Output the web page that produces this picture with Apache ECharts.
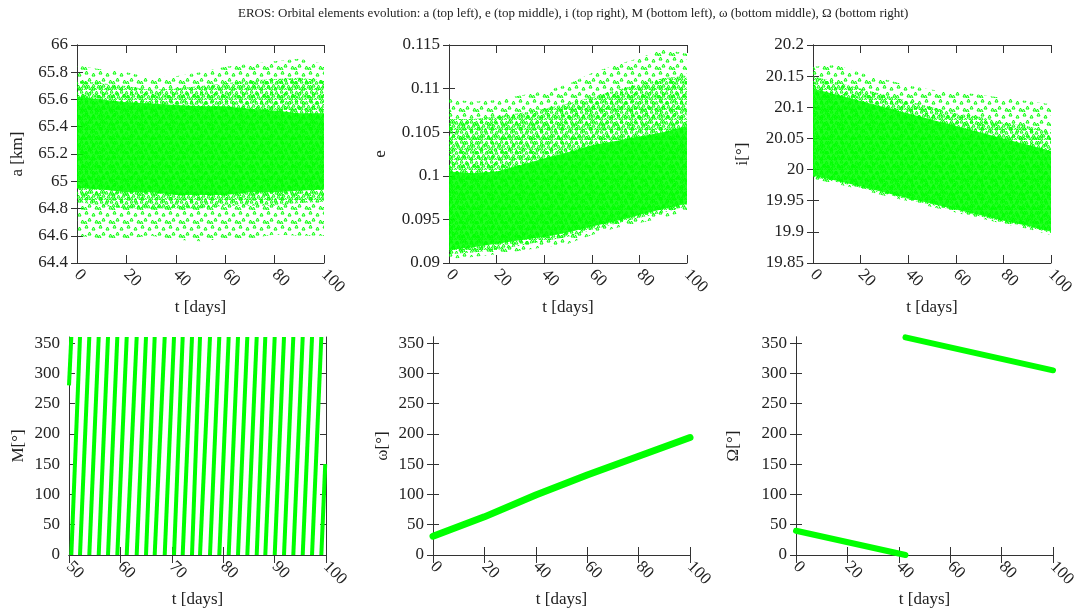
<!DOCTYPE html>
<html>
<head>
<meta charset="utf-8">
<script src="https://cdn.jsdelivr.net/npm/echarts@6/dist/echarts.min.js"></script>
<style>
  html, body { margin: 0; padding: 0; background: #fff; }
  #chart { width: 1081px; height: 611px; }
</style>
</head>
<body>
<div id="chart"></div>
<script>
// sample times of the envelope readings (days)
const tEnv = [0, 10, 20, 30, 40, 50, 60, 70, 80, 90, 100]

// a [km]: outer fringe, moderately dense band, dense core
const aHi     = [65.85, 65.82, 65.80, 65.76, 65.77, 65.80, 65.84, 65.86, 65.88, 65.90, 65.86]
const aLo     = [64.60, 64.58, 64.58, 64.60, 64.57, 64.56, 64.58, 64.58, 64.61, 64.60, 64.60]
const aMidHi  = [65.74, 65.72, 65.70, 65.67, 65.68, 65.70, 65.72, 65.74, 65.75, 65.76, 65.74]
const aMidLo  = [64.85, 64.82, 64.80, 64.80, 64.80, 64.80, 64.82, 64.82, 64.82, 64.84, 64.85]
const aCoreHi = [65.62, 65.60, 65.58, 65.57, 65.56, 65.55, 65.55, 65.53, 65.52, 65.50, 65.50]
const aCoreLo = [64.95, 64.94, 64.92, 64.92, 64.90, 64.90, 64.90, 64.92, 64.92, 64.93, 64.94]

// e
const eHi     = [0.1088, 0.1085, 0.1087, 0.1092, 0.1097, 0.1105, 0.1118, 0.1127, 0.1135, 0.1145, 0.1140]
const eLo     = [0.0905, 0.0907, 0.0910, 0.0914, 0.0918, 0.0922, 0.0932, 0.0940, 0.0946, 0.0952, 0.0960]
const eMidHi  = [0.1065, 0.1065, 0.1068, 0.1072, 0.1077, 0.1083, 0.1090, 0.1098, 0.1105, 0.1112, 0.1115]
const eMidLo  = [0.0910, 0.0912, 0.0915, 0.0920, 0.0925, 0.0930, 0.0938, 0.0945, 0.0952, 0.0958, 0.0965]
const eCoreHi = [0.1005, 0.1003, 0.1005, 0.1012, 0.1020, 0.1027, 0.1035, 0.1040, 0.1045, 0.1050, 0.1057]
const eCoreLo = [0.0915, 0.0918, 0.0922, 0.0926, 0.0930, 0.0935, 0.0942, 0.0948, 0.0955, 0.0962, 0.0968]

// i [deg]
const iHi     = [20.165, 20.168, 20.155, 20.145, 20.135, 20.128, 20.125, 20.120, 20.115, 20.110, 20.105]
const iLo     = [19.985, 19.977, 19.968, 19.958, 19.949, 19.940, 19.931, 19.922, 19.913, 19.905, 19.895]
const iMidHi  = [20.150, 20.140, 20.130, 20.120, 20.110, 20.100, 20.090, 20.085, 20.075, 20.070, 20.060]
const iMidLo  = [19.988, 19.980, 19.971, 19.961, 19.952, 19.943, 19.934, 19.925, 19.916, 19.908, 19.898]
const iCoreHi = [20.130, 20.120, 20.110, 20.100, 20.090, 20.080, 20.070, 20.060, 20.050, 20.040, 20.030]
const iCoreLo = [19.990, 19.982, 19.973, 19.963, 19.954, 19.945, 19.936, 19.927, 19.918, 19.910, 19.900]

// M [deg]: times where M wraps 360 -> 0
const mWrap = [50.45, 52.14, 53.95, 55.78, 57.59, 59.40, 61.23, 63.17, 64.98, 66.67,
               68.62, 70.43, 72.12, 73.93, 75.49, 77.43, 79.24, 81.07, 82.88, 84.69,
               86.52, 88.19, 90.02, 91.83, 93.64, 95.47, 97.28, 99.09]
const mStart = [50.0, 280]
const mEnd = [99.85, 150]

// omega [deg]
const wT = [0, 20, 40, 60, 80, 100]
const wV = [31, 63, 99, 132, 163, 194]

// Omega [deg], two pieces split at the 0/360 wrap
const OmT1 = [0, 42.6]
const OmV1 = [40, 0]
const OmT2 = [42.6, 100]
const OmV2 = [359.5, 305]

const angleTicks = [0, 50, 100, 150, 200, 250, 300, 350]

const GREEN = '#00ff00'
const FONT = '"Liberation Serif", "DejaVu Serif", serif'
const INK = '#222'

const grids = [
  { left: 77, top: 45, width: 247, height: 218 },
  { left: 449, top: 45, width: 238, height: 218 },
  { left: 813, top: 45, width: 238, height: 218 },
  { left: 69, top: 337, width: 257, height: 218 },
  { left: 433, top: 337, width: 257, height: 218 },
  { left: 796, top: 337, width: 257, height: 218 }
]
const xRange = [[0, 100, 20], [0, 100, 20], [0, 100, 20], [50, 100, 10], [0, 100, 20], [0, 100, 20]]
const yRange = [[64.4, 66, 0.2], [0.09, 0.115, 0.005], [19.85, 20.2, 0.05], [0, 360, 50], [0, 360, 50], [0, 360, 50]]
const yNames = ['a [km]', 'e', 'i[°]', 'M[°]', 'ω[°]', 'Ω[°]']
const yGaps = [51, 60, 62, 42, 42, 54]

const fmt = v => String(parseFloat(v.toFixed(4)))

const xAxes = []
const yAxes = []
grids.forEach((g, k) => {
  const [x0, x1, xi] = xRange[k]
  const [y0, y1, yi] = yRange[k]
  const angle = k >= 3
  const line = { show: true, lineStyle: { color: '#333', width: 1 } }
  const yTick = { inside: true, length: 6, lineStyle: { color: '#333' } }
  if (angle) yTick.customValues = angleTicks
  xAxes.push({
    type: 'value', gridIndex: k, min: x0, max: x1, interval: xi, position: 'bottom',
    axisLine: line, splitLine: { show: false },
    axisTick: { inside: true, length: 8, lineStyle: { color: '#333' } },
    axisLabel: { rotate: -45, margin: 9, fontFamily: FONT, fontSize: 17, color: INK },
    name: 't [days]', nameLocation: 'middle', nameGap: 36,
    nameTextStyle: { fontFamily: FONT, fontSize: 17, color: INK }
  })
  xAxes.push({
    type: 'value', gridIndex: k, min: x0, max: x1, interval: xi, position: 'top',
    axisLine: line, splitLine: { show: false }, axisLabel: { show: false },
    axisTick: { inside: true, length: 8, lineStyle: { color: '#333' } }
  })
  const yLabel = { margin: 9, fontFamily: FONT, fontSize: 17, color: INK, formatter: fmt }
  if (angle) yLabel.customValues = angleTicks
  yAxes.push({
    type: 'value', gridIndex: k, min: y0, max: y1, interval: yi, position: 'left',
    axisLine: line, splitLine: { show: false },
    axisTick: yTick, axisLabel: yLabel,
    name: yNames[k], nameLocation: 'middle', nameGap: yGaps[k],
    nameTextStyle: { fontFamily: FONT, fontSize: 17, color: INK }
  })
  yAxes.push({
    type: 'value', gridIndex: k, min: y0, max: y1, interval: yi, position: 'right',
    axisLine: line, splitLine: { show: false }, axisLabel: { show: false },
    axisTick: yTick
  })
})

// small tile of outlined triangles, used as a fill to look like a cloud of markers
function markerTile(w, h, spots, alpha) {
  const c = document.createElement('canvas')
  c.width = w
  c.height = h
  const ctx = c.getContext('2d')
  ctx.strokeStyle = 'rgba(0,255,0,' + alpha + ')'
  ctx.lineWidth = 1
  spots.forEach(([x, y]) => {
    ctx.beginPath()
    ctx.moveTo(x + 1.5, y)
    ctx.lineTo(x + 3, y + 3)
    ctx.lineTo(x, y + 3)
    ctx.closePath()
    ctx.stroke()
  })
  return { image: c, repeat: 'repeat' }
}

const sparseFill = markerTile(14, 14, [[1, 1], [8, 3], [4, 8], [11, 10], [0, 11]], 1)
const midFill = markerTile(10, 10, [[0, 0], [5, 1], [2, 4], [7, 5], [4, 8], [0, 7], [8, 9]], 1)
const CORE = 'rgba(0,255,0,0.85)'

// filled envelope between lo and hi, drawn through the axis scales
function band(k, ts, lo, hi, fill) {
  return {
    type: 'custom', xAxisIndex: 2 * k, yAxisIndex: 2 * k, silent: true, clip: true,
    data: [[ts[0], lo[0]]],
    renderItem: (params, api) => {
      const pts = []
      for (let i = 0; i < ts.length; i++) pts.push(api.coord([ts[i], hi[i]]))
      for (let i = ts.length - 1; i >= 0; i--) pts.push(api.coord([ts[i], lo[i]]))
      return { type: 'polygon', shape: { points: pts }, style: { fill: fill } }
    }
  }
}

const series = [
  band(0, tEnv, aLo, aHi, sparseFill), band(0, tEnv, aMidLo, aMidHi, midFill), band(0, tEnv, aCoreLo, aCoreHi, CORE),
  band(1, tEnv, eLo, eHi, sparseFill), band(1, tEnv, eMidLo, eMidHi, midFill), band(1, tEnv, eCoreLo, eCoreHi, CORE),
  band(2, tEnv, iLo, iHi, sparseFill), band(2, tEnv, iMidLo, iMidHi, midFill), band(2, tEnv, iCoreLo, iCoreHi, CORE)
]

// M: one rising stroke per orbit
const mSegs = [{ coords: [mStart, [mWrap[0], 360]] }]
for (let i = 0; i + 1 < mWrap.length; i++) {
  mSegs.push({ coords: [[mWrap[i], 0], [mWrap[i + 1], 360]] })
}
mSegs.push({ coords: [[mWrap[mWrap.length - 1], 0], mEnd] })
series.push({
  type: 'lines', coordinateSystem: 'cartesian2d', xAxisIndex: 6, yAxisIndex: 6,
  data: mSegs, silent: true,
  lineStyle: { color: GREEN, width: 4, opacity: 1, cap: 'butt' }
})

series.push({
  type: 'line', xAxisIndex: 8, yAxisIndex: 8, symbol: 'none', silent: true,
  data: wT.map((t, i) => [t, wV[i]]),
  lineStyle: { color: GREEN, width: 7, cap: 'round' }
})

series.push({
  type: 'lines', coordinateSystem: 'cartesian2d', xAxisIndex: 10, yAxisIndex: 10, silent: true,
  data: [
    { coords: OmT1.map((t, i) => [t, OmV1[i]]) },
    { coords: OmT2.map((t, i) => [t, OmV2[i]]) }
  ],
  lineStyle: { color: GREEN, width: 6, opacity: 1, cap: 'round' }
})

const chart = echarts.init(document.getElementById('chart'), null, { renderer: 'canvas' })
chart.setOption({
  animation: false,
  backgroundColor: '#fff',
  title: {
    text: 'EROS: Orbital elements evolution: a (top left), e (top middle), i (top right), M (bottom left), ω (bottom middle), Ω (bottom right)',
    left: 233, top: 2,
    textStyle: { fontFamily: FONT, fontSize: 13, fontWeight: 'normal', color: INK }
  },
  grid: grids,
  xAxis: xAxes,
  yAxis: yAxes,
  series: series
})
</script>
</body>
</html>
